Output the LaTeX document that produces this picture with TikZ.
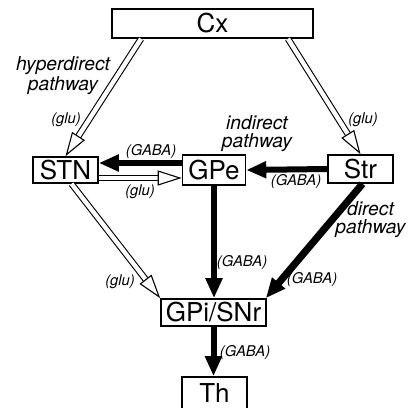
\documentclass[tikz,border=0pt]{standalone}
\usepackage{fontspec}
\setmainfont{TeX Gyre Heros}
\usetikzlibrary{arrows.meta,calc}
\begin{document}
\begin{tikzpicture}[x=0.5pt,y=-0.5pt,
 box/.style={draw,line width=0.8pt,inner sep=0pt,font=\fontsize{13}{15}\selectfont},
 inh/.style={line width=3pt,-{Triangle[length=10pt,width=8pt]}},
 exc/.style={draw=black,double=white,double distance=2.2pt,line width=0.55pt,
  -{Triangle[open,fill=white,length=12pt,width=7.5pt]}},
 lab/.style={font=\fontsize{7.4}{8}\selectfont\itshape,inner sep=0pt},
 pway/.style={font=\fontsize{9.6}{9}\selectfont\itshape,align=center,inner sep=0pt}]
 \useasboundingbox (0,0) rectangle (411,407);
 \node [box,minimum width=100.5pt,minimum height=14.5pt] (cx) at (212.5,23.5) {Cx};
 \node [box,minimum width=32.5pt,minimum height=13pt] (stn) at (65.5,170) {STN};
 \node [box,minimum width=31.5pt,minimum height=15pt] (gpe) at (214,170) {GPe};
 \node [box,minimum width=32.5pt,minimum height=14pt] (str) at (360.5,169) {Str};
 \node [box,minimum width=52.5pt,minimum height=13.5pt] (gpi) at (213.5,312.5) {GPi/SNr};
 \node [box,minimum width=32.5pt,minimum height=16.5pt] (th) at (214.5,393.5) {Th};
 % excitatory
 \draw [exc] ($(cx.south)+(-71.5,0)$) -- (stn.north);
 \draw [exc] ($(cx.south)+(75.5,0)$) -- (str.north);
 \draw [exc] ($(stn.east)+(0,8)$) -- ($(gpe.west)+(0,8)$);
 \draw [exc] ($(stn.south)+(6,0)$) -- (gpi.north west);
 % inhibitory
 \draw [inh] ($(gpe.west)+(0,-7)$) -- ($(stn.east)+(0,-7)$);
 \draw [inh] (str.west) -- (gpe.east);
 \draw [inh] (gpe.south) -- (gpe.south|-gpi.north);
 \draw [inh,line width=3.6pt] ($(str.south)+(2,0)$) -- ($(gpi.north east)+(-1,0)$);
 \draw [inh] (gpi.south) -- (gpi.south|-th.north);
 % labels
 \node [pway] (hyp) at (63,76) {hyperdirect\\pathway};
 \node [pway] (ind) at (257,133.5) {indirect\\pathway};
 \node [pway] (dir) at (370.5,220) {direct\\pathway};
 \node [lab] (g1) at (66,120) {(glu)};
 \node [lab] (g2) at (363,120) {(glu)};
 \node [lab] (g3) at (140,192) {(glu)};
 \node [lab] (g4) at (120,282) {(glu)};
 \node [lab] (a1) at (151,152) {(GABA)};
 \node [lab] (a2) at (296,182) {(GABA)};
 \node [lab] (a3) at (242,263) {(GABA)};
 \node [lab] (a4) at (312,280) {(GABA)};
 \node [lab] (a5) at (245,353) {(GABA)};
\end{tikzpicture}
\end{document}
